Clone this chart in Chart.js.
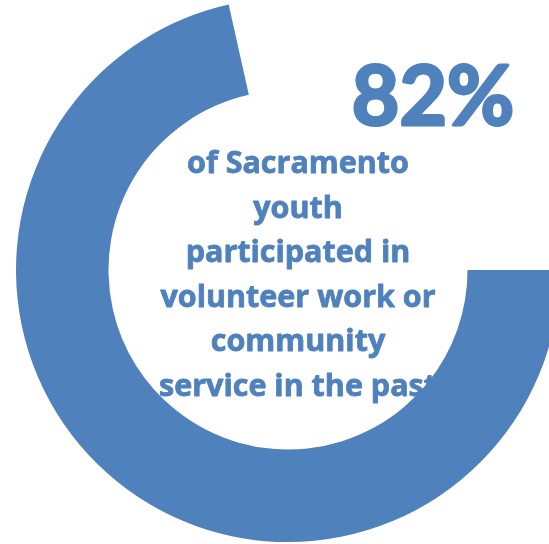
<!DOCTYPE html>
<html>
<head>
<meta charset="utf-8">
<script src="https://cdn.jsdelivr.net/npm/chart.js@4"></script>
<style>
  html, body { margin: 0; padding: 0; background: #fff; overflow: hidden; width: 549px; height: 544px; }
  #ring { position: absolute; left: 16px; top: -2px; }
</style>
</head>
<body>
<canvas id="ring" width="544" height="544"></canvas>
<script>
// ring segments as drawn: filled arc and the empty gap
const segments = ['Participated', 'Gap'];
const shares = [71.5, 28.5];
const headline = '82%';
const captionLines = [
    'of Sacramento',
    'youth',
    'participated in',
    'volunteer work or',
    'community',
    'service in the past'
];

const BLUE = '#4F81BD';

// text sits under the ring, so it is painted before the arcs
const captionPlugin = {
    id: 'caption',
    beforeDatasetsDraw(chart) {
        const ctx = chart.ctx;
        ctx.save();
        ctx.fillStyle = BLUE;
        ctx.strokeStyle = BLUE;
        ctx.lineJoin = 'round';
        ctx.textAlign = 'center';
        ctx.textBaseline = 'alphabetic';

        // thicken the big number a bit, the original face is heavier
        ctx.font = 'bold 82px Lato';
        ctx.lineWidth = 3;
        ctx.fillText(headline, 433 - 16, 125 + 2);
        ctx.strokeText(headline, 433 - 16, 125 + 2);

        ctx.font = 'bold 30.5px "Open Sans"';
        ctx.lineWidth = 0.8;
        captionLines.forEach((line, i) => {
            ctx.fillText(line, 282, 175 + i * 44.6);
            ctx.strokeText(line, 282, 175 + i * 44.6);
        });
        ctx.restore();
    }
};

new Chart(document.getElementById('ring'), {
    type: 'doughnut',
    data: {
        labels: segments,
        datasets: [{
            data: shares,
            backgroundColor: [BLUE, 'rgba(0,0,0,0)'],
            borderWidth: 0,
            hoverOffset: 0
        }]
    },
    options: {
        responsive: false,
        animation: false,
        rotation: 90,
        cutout: '66%',
        layout: { padding: 0 },
        events: [],
        plugins: {
            legend: { display: false },
            tooltip: { enabled: false }
        }
    },
    plugins: [captionPlugin]
});
</script>
</body>
</html>
